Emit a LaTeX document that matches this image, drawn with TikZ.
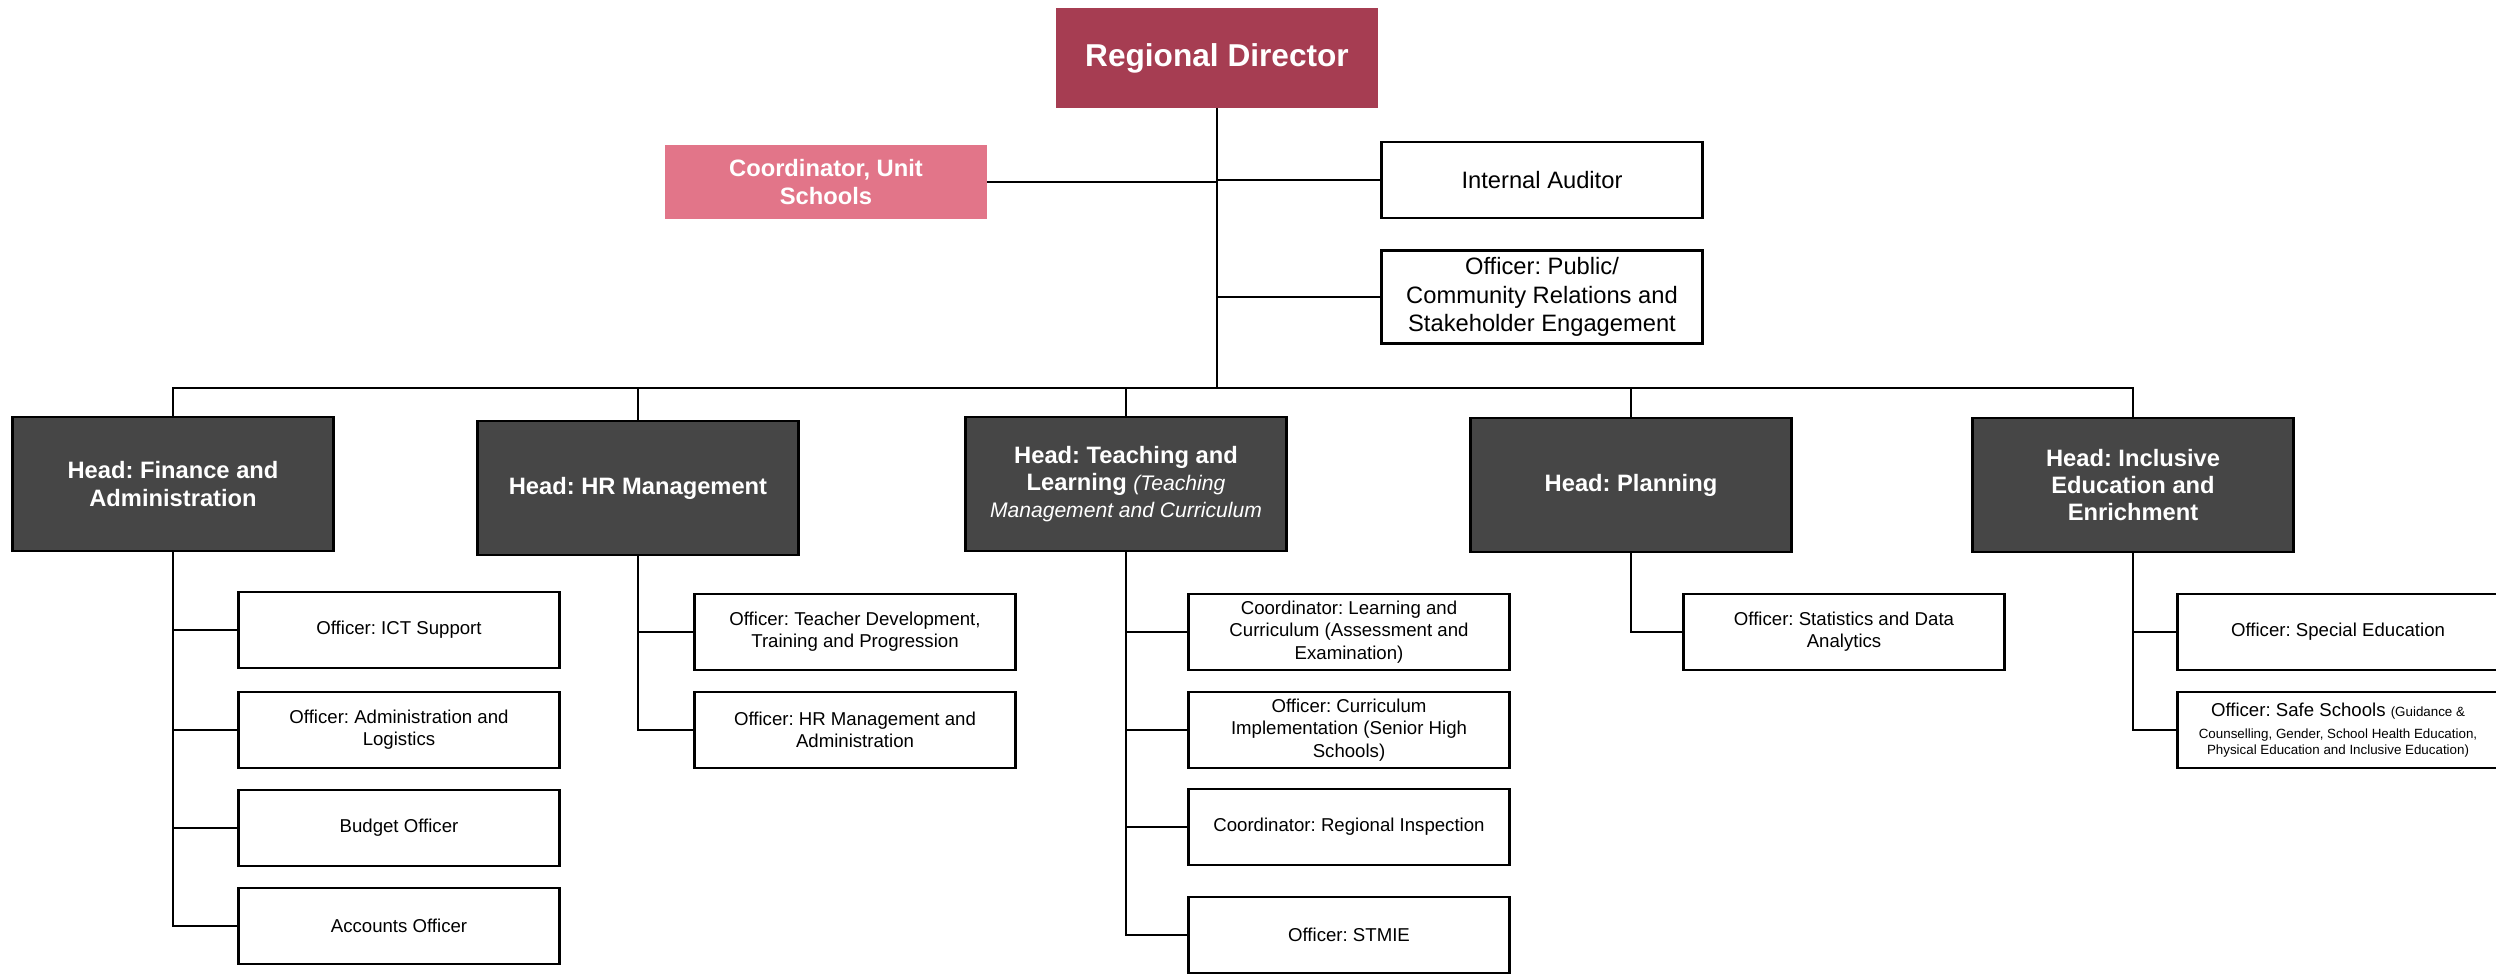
\documentclass[tikz,border=0pt]{standalone}
\usepackage{fontspec}
\setmainfont{Liberation Sans}
\usepackage{tikz}
\usetikzlibrary{calc}
\usetikzlibrary{positioning}
\definecolor{rdred}{RGB}{166, 61, 82}
\definecolor{coordpink}{RGB}{226, 117, 137}
\definecolor{headgray}{RGB}{70, 70, 70}
\frenchspacing

\tikzset{
    dirbox/.style={fill=rdred, text=white, font=\fontsize{18}{21}\selectfont\bfseries,
        minimum width=6.44cm, minimum height=2.0cm, inner sep=0pt, align=center},
    coordbox/.style={fill=coordpink, text=white, font=\fontsize{13.5}{16}\selectfont\bfseries,
        minimum width=6.44cm, minimum height=1.5cm, inner sep=0pt, align=center},
    staffbox/.style={draw=black, line width=1.2pt, fill=white, font=\fontsize{13.5}{16.3}\selectfont,
        minimum width=6.42cm, inner sep=0pt, align=center},
    headbox/.style={draw=black, line width=1.2pt, fill=headgray, text=white,
        font=\fontsize{13.5}{15.6}\selectfont\bfseries,
        minimum width=6.42cm, minimum height=2.68cm, inner sep=0pt, align=center},
    officerbox/.style={draw=black, line width=1.2pt, fill=white, font=\fontsize{10.6}{12.7}\selectfont,
        minimum width=6.42cm, minimum height=1.52cm, inner sep=0pt, align=center},
    link/.style={line width=1.5pt}
}
\newcommand{\tlnote}[1]{{\fontsize{12}{15}\selectfont\mdseries\itshape #1}}
\newcommand{\safenote}[1]{{\fontsize{7.6}{9}\selectfont #1}}

\begin{document}
\begin{tikzpicture}[x=0.02cm, y=-0.02cm]
    \useasboundingbox (0,0) rectangle (2496,974);

    % top level
    \node[dirbox]   (rd)    at (1217,  58) {Regional Director};
    \node[coordbox] (coord) at ( 826, 182) {Coordinator, Unit\\Schools};
    \node[staffbox, minimum height=1.52cm] (ia)  at (1542, 180) {Internal Auditor};
    \node[staffbox, minimum height=1.86cm] (opr) at (1542, 297)
        {Officer: Public/\\Community Relations and\\Stakeholder Engagement};

    % heads
    \node[headbox] (hfin) at ( 173, 484) {Head: Finance and\\Administration};
    \node[headbox] (hhr)  at ( 638, 488) {Head: HR Management};
    \node[headbox] (htl)  at (1126, 484)
        {Head: Teaching and\\Learning \tlnote{(Teaching}\\\tlnote{Management and Curriculum}};
    \node[headbox] (hpl)  at (1631, 485) {Head: Planning};
    \node[headbox] (hie)  at (2133, 485) {Head: Inclusive\\Education and\\Enrichment};

    % finance and administration
    \node[officerbox] (ict) at (399, 630) {Officer: ICT Support};
    \node[officerbox] (adm) at (399, 730) {Officer: Administration and\\Logistics};
    \node[officerbox] (bud) at (399, 828) {Budget Officer};
    \node[officerbox] (acc) at (399, 926) {Accounts Officer};

    % hr management
    \node[officerbox] (tdp) at (855, 632) {Officer: Teacher Development,\\Training and Progression};
    \node[officerbox] (hrm) at (855, 730) {Officer: HR Management and\\Administration};

    % teaching and learning
    \node[officerbox] (clc) at (1349, 632) {Coordinator: Learning and\\Curriculum (Assessment and\\Examination)};
    \node[officerbox] (cim) at (1349, 730) {Officer: Curriculum\\Implementation (Senior High\\Schools)};
    \node[officerbox] (cri) at (1349, 827) {Coordinator: Regional Inspection};
    \node[officerbox] (stm) at (1349, 935) {Officer: STMIE};

    % planning
    \node[officerbox] (sda) at (1844, 632) {Officer: Statistics and Data\\Analytics};

    % inclusive education
    \node[officerbox] (spe) at (2338, 632) {Officer: Special Education};
    \node[officerbox] (sfs) at (2338, 730)
        {Officer: Safe Schools \safenote{(Guidance \&}\\
         \safenote{Counselling, Gender, School Health Education,}\\[-3.5pt]
         \safenote{Physical Education and Inclusive Education)}};

    % connectors
    \coordinate (bus) at (1217, 388);
    \draw[link] (rd.south) -- (bus);
    \draw[link] (coord.east) -- (coord.east -| bus);
    \draw[link] (ia.west) -- (ia.west -| bus);
    \draw[link] (opr.west) -- (opr.west -| bus);
    \foreach \h in {hfin,hhr,htl,hpl,hie}
        \draw[link] (\h.north) |- (bus);

    \foreach \s in {ict,adm,bud,acc}
        \draw[link] (hfin.south) |- (\s.west);
    \foreach \s in {tdp,hrm}
        \draw[link] (hhr.south) |- (\s.west);
    \foreach \s in {clc,cim,cri,stm}
        \draw[link] (htl.south) |- (\s.west);
    \draw[link] (hpl.south) |- (sda.west);
    \foreach \s in {spe,sfs}
        \draw[link] (hie.south) |- (\s.west);
\end{tikzpicture}
\end{document}
